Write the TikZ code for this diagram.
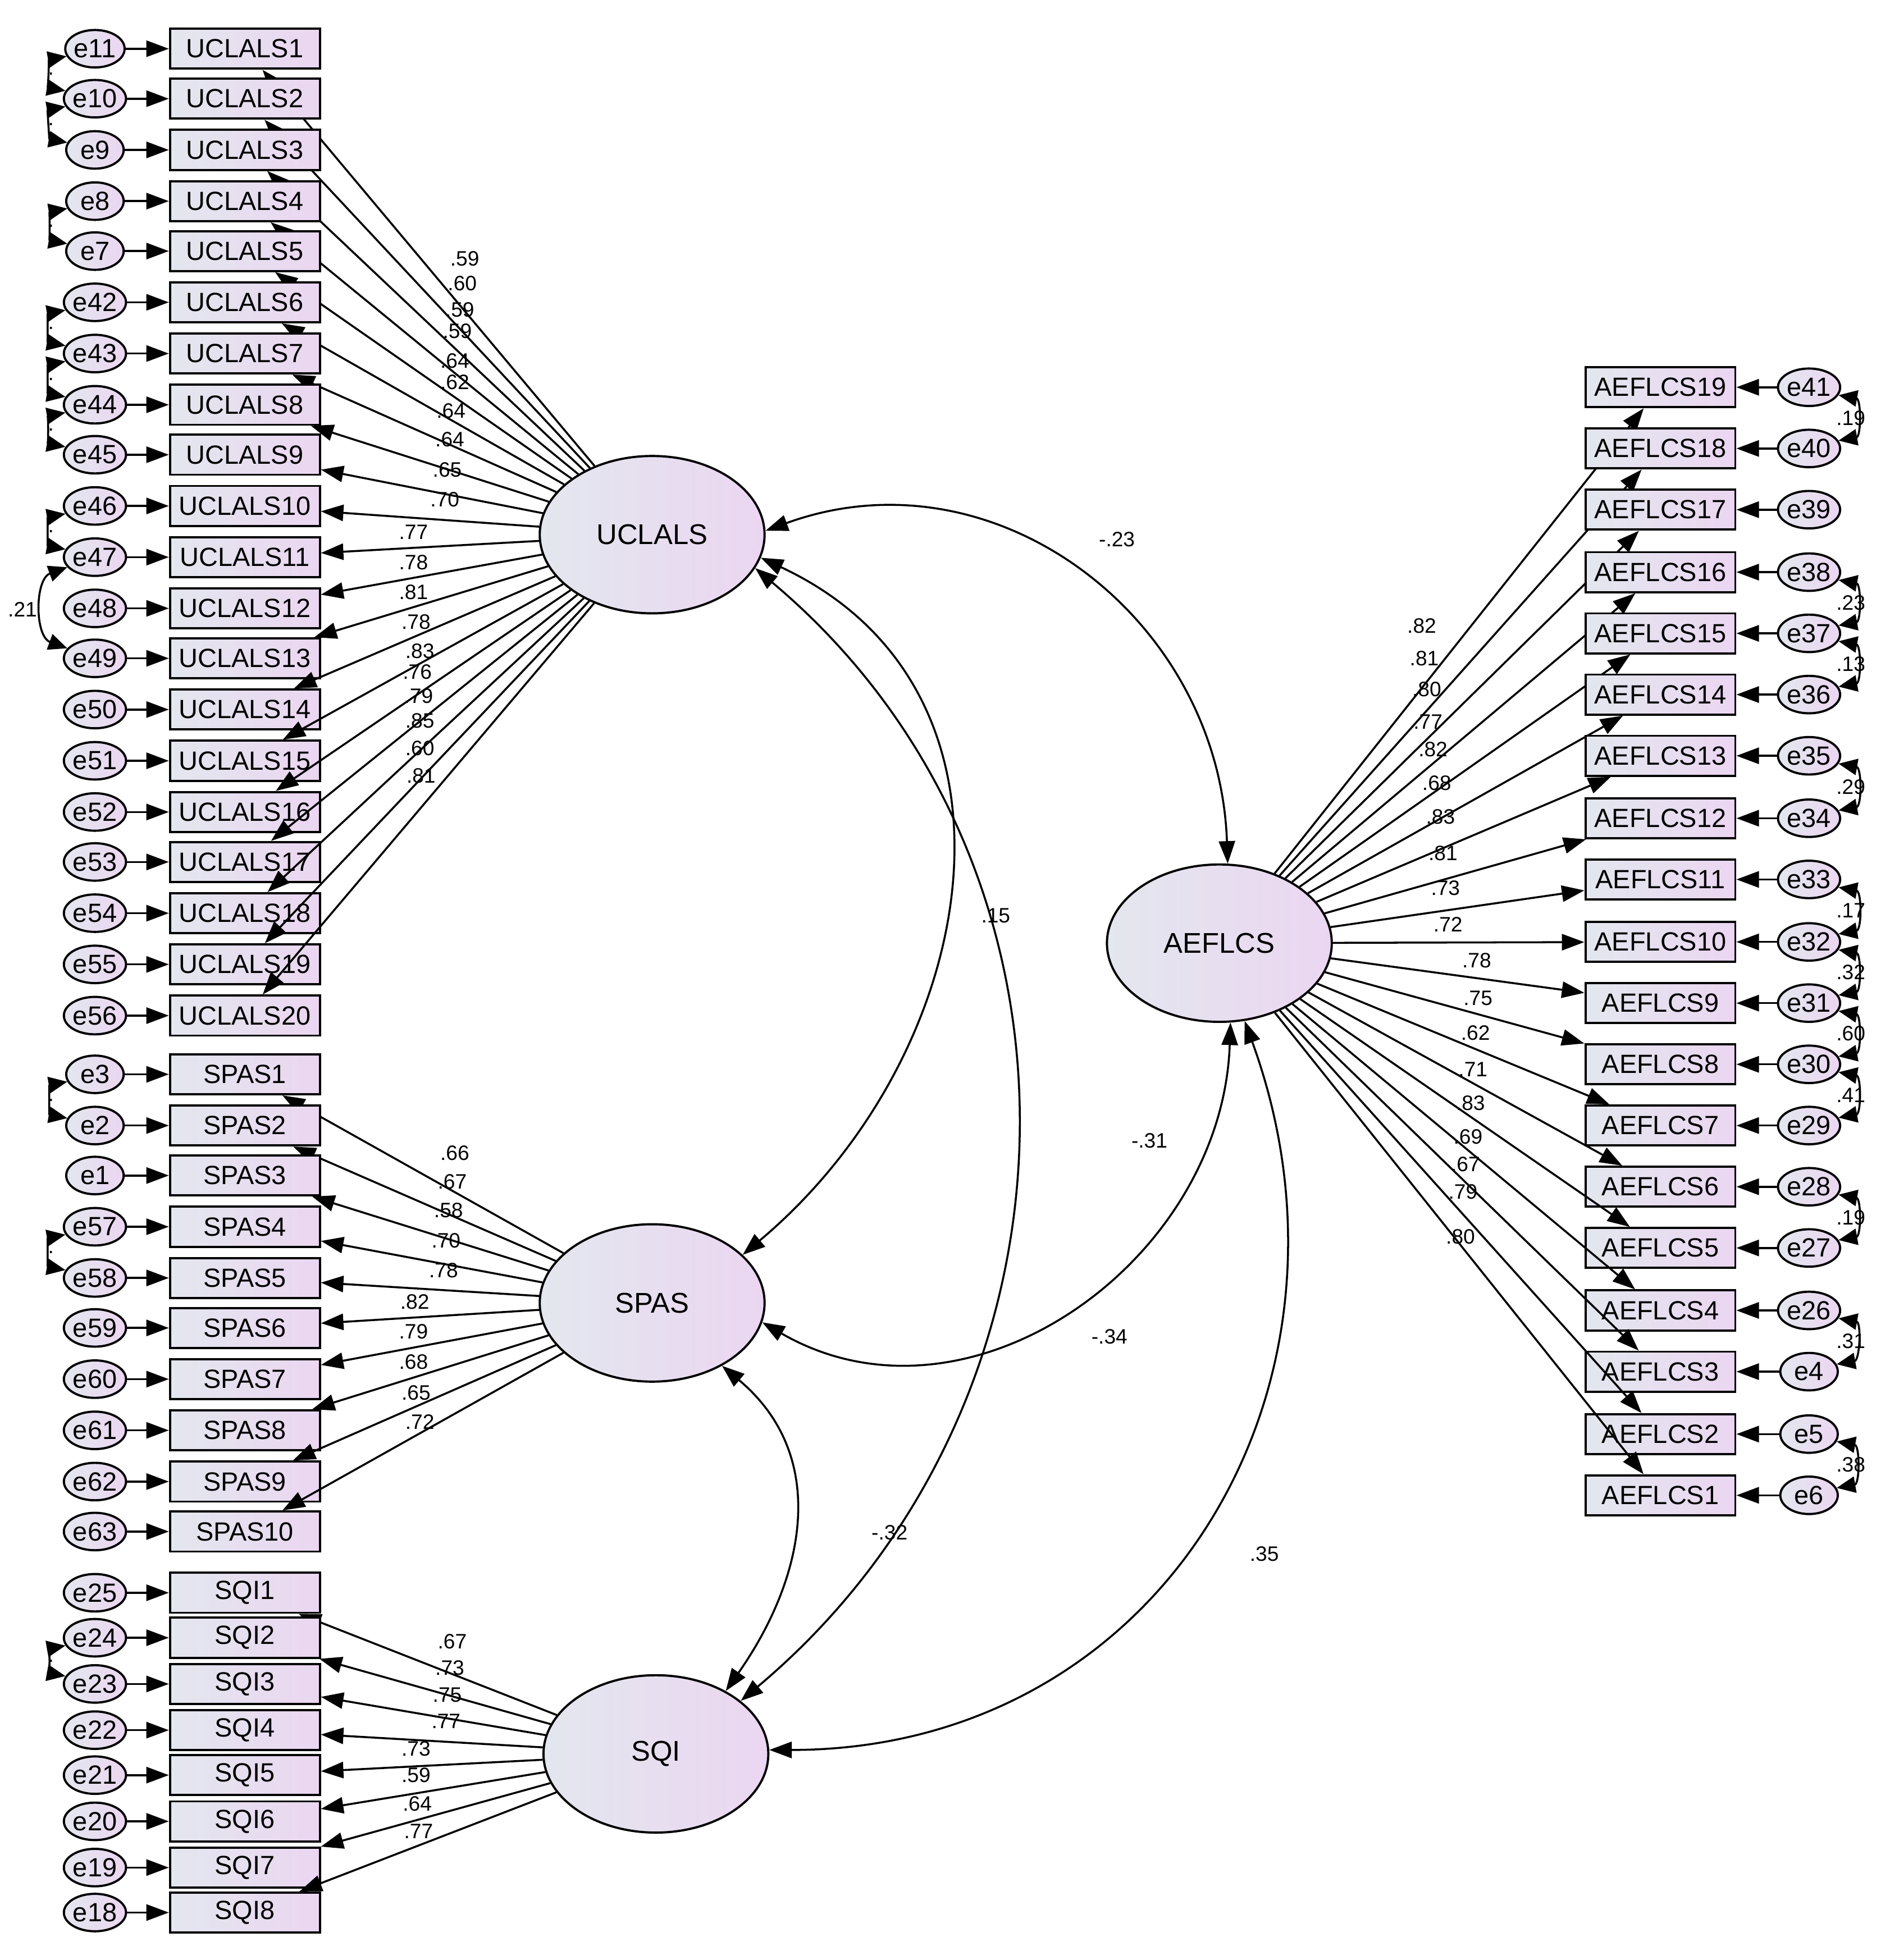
\documentclass[tikz,border=0pt]{standalone}
\usepackage{fontspec}
\setmainfont{Liberation Sans}
\usetikzlibrary{shapes.geometric,arrows.meta}
\definecolor{cL}{HTML}{E3E7EE}
\definecolor{cR}{HTML}{EBD6F1}
\begin{document}
\begin{tikzpicture}[x=0.02cm,y=-0.02cm,
 box/.style={draw,line width=1pt,left color=cL,right color=cR,minimum width=2.4cm,minimum height=0.64cm,inner sep=0pt,font=\fontsize{12}{12}\selectfont},
 err/.style={draw,ellipse,line width=1pt,left color=cL,right color=cR,minimum width=0.92cm,minimum height=0.6cm,inner sep=0pt,font=\fontsize{12}{12}\selectfont},
 lat/.style={draw,ellipse,line width=1pt,left color=cL,right color=cR,minimum width=3.6cm,minimum height=2.52cm,inner sep=0pt,font=\fontsize{13}{13}\selectfont},
 lab/.style={font=\fontsize{9.5}{9.5}\selectfont,inner sep=0pt},
 ar/.style={line width=0.9pt,-{Triangle[length=0.36cm,width=0.26cm]}},
 cv/.style={line width=0.9pt,{Triangle[length=0.36cm,width=0.26cm]}-{Triangle[length=0.36cm,width=0.26cm]}},
 ecv/.style={line width=0.9pt,{Triangle[length=0.3cm,width=0.26cm]}-{Triangle[length=0.3cm,width=0.26cm]}}]
\useasboundingbox (0,0) rectangle (1520,1569);
\node[lat] (U) at (522,428) {UCLALS};
\node[lat] (S) at (522,1043) {SPAS};
\node[lat] (Q) at (525,1404) {SQI};
\node[lat] (A) at (976,755) {AEFLCS};
% UCLALS
\foreach \i/\y/\e/\l/\lx/\ly in {1/39/e11/.59/372/207,2/79/e10/.60/370/227,3/120/e9/.59/368/248,4/161/e8/.59/366/265,5/201/e7/.64/364/289,6/242/e42/.62/364/306,7/283/e43/.64/361/329,8/324/e44/.64/360/352,9/364/e45/.65/358/376,10/405/e46/.70/356/400,11/446/e47/.77/331/426,12/487/e48/.78/331/450,13/527/e49/.81/331/474,14/568/e50/.78/333/498,15/609/e51/.83/336/521,16/650/e52/.76/334/538,17/690/e53/.79/335/557,18/731/e54/.85/336/577,19/772/e55/.60/336/599,20/813/e56/.81/337/621}{
 \node[box] (u\i) at (196,\y) {UCLALS\i};
 \node[err] (\e) at (76,\y) {\e};
 \draw[ar] (\e) -- (u\i);
 \draw[ar] (U) -- (u\i);
 \node[lab] (lu\i) at (\lx,\ly) {\l};
}
% SPAS
\foreach \i/\y/\e/\l/\lx/\ly in {1/860/e3/.66/364/923,2/901/e2/.67/362/946,3/941/e1/.58/359/969,4/982/e57/.70/357/993,5/1023/e58/.78/355/1017,6/1063/e59/.82/332/1042,7/1104/e60/.79/331/1066,8/1145/e61/.68/331/1090,9/1186/e62/.65/333/1115,10/1226/e63/.72/336/1138}{
 \node[box] (s\i) at (196,\y) {SPAS\i};
 \node[err] (\e) at (76,\y) {\e};
 \draw[ar] (\e) -- (s\i);
 \draw[ar] (S) -- (s\i);
 \node[lab] (ls\i) at (\lx,\ly) {\l};
}
% SQI
\foreach \i/\y/\e/\l/\lx/\ly in {1/1275/e25/.67/362/1314,2/1311/e24/.73/360/1335,3/1348/e23/.75/358/1357,4/1385/e22/.77/357/1378,5/1421/e21/.73/333/1400,6/1458/e20/.59/333/1421,7/1495/e19/.64/334/1444,8/1531/e18/.77/335/1466}{
 \node[box] (q\i) at (196,\y) {SQI\i};
 \node[err] (\e) at (76,\y) {\e};
 \draw[ar] (\e) -- (q\i);
 \draw[ar] (Q) -- (q\i);
 \node[lab] (lq\i) at (\lx,\ly) {\l};
}
% AEFLCS
\foreach \i/\y/\e/\l/\lx/\ly in {19/310/e41/.82/1138/501,18/359/e40/.81/1140/527,17/408/e39/.80/1142/552,16/458/e38/.77/1143/578,15/507/e37/.82/1147/600,14/556/e36/.68/1150/627,13/605/e35/.83/1153/654,12/655/e34/.81/1155/683,11/704/e33/.73/1157/711,10/754/e32/.72/1159/740,9/803/e31/.78/1182/769,8/852/e30/.75/1183/799,7/901/e29/.62/1181/827,6/950/e28/.71/1179/856,5/999/e27/.83/1177/883,4/1049/e26/.69/1175/910,3/1098/e4/.67/1173/932,2/1148/e5/.79/1171/954,1/1197/e6/.80/1169/990}{
 \node[box] (a\i) at (1329,\y) {AEFLCS\i};
 \node[err] (\e) at (1448,\y) {\e};
 \draw[ar] (\e) -- (a\i);
 \draw[ar] (A) -- (a\i);
 \node[lab] (la\i) at (\lx,\ly) {\l};
}
% right error covariance labels (under arcs)
\foreach \a/\b/\l/\n in {e41/e40/.19/r1,e38/e37/.23/r2,e37/e36/.13/r3,e35/e34/.29/r4,e33/e32/.17/r5,e32/e31/.32/r6,e31/e30/.60/r7,e30/e29/.41/r8,e28/e27/.19/r9,e26/e4/.31/r10,e5/e6/.38/r11}{
 \path (\a) -- (\b) coordinate[pos=0.5] (m\n);
 \node[lab,anchor=west] (l\n) at ([xshift=-6]m\n -| 1480,0) {\l};
 \draw[ecv] (\a.-15) to[out=-10,in=10,looseness=1.3] (\b.15);
}
% left error covariances
\foreach \a/\b/\n in {e11/e10/c1,e10/e9/c2,e8/e7/c3,e42/e43/c4,e43/e44/c5,e44/e45/c6,e46/e47/c7,e3/e2/c8,e57/e58/c9,e24/e23/c10}{
 \path (\a) -- (\b) coordinate[pos=0.5] (m\n);
 \node[lab,anchor=east] (l\n) at ([xshift=2]m\n -| 40,0) {.};
 \draw[ecv] (\a.195) to[out=190,in=170,looseness=1.3] (\b.165);
}
\node[lab] (l21) at (18,488) {.21};
\draw[ecv] (e47.200) to[out=200,in=160,looseness=1.1] (e49.160);
% latent covariances
\draw[cv] (U.2) to[out=20,in=92,looseness=1.1] (A.84);
\draw[cv] (U.-12) to[out=-25,in=40,looseness=1.15] (S.28);
\draw[cv] (S.-10) to[out=-30,in=-92,looseness=1.1] (A.-82);
\draw[cv] (U.-18) to[out=-40,in=40,looseness=1.05] (Q.32);
\draw[cv] (S.-42) to[out=-40,in=55,looseness=1.1] (Q.42);
\draw[cv] (Q.2) to[out=0,in=-70,looseness=1.15] (A.-72);
\node[lab] (c1) at (894,432) {-.23};
\node[lab] (c2) at (797,733) {.15};
\node[lab] (c3) at (920,913) {-.31};
\node[lab] (c4) at (888,1070) {-.34};
\node[lab] (c5) at (712,1227) {-.32};
\node[lab] (c6) at (1012,1244) {.35};
\end{tikzpicture}
\end{document}
